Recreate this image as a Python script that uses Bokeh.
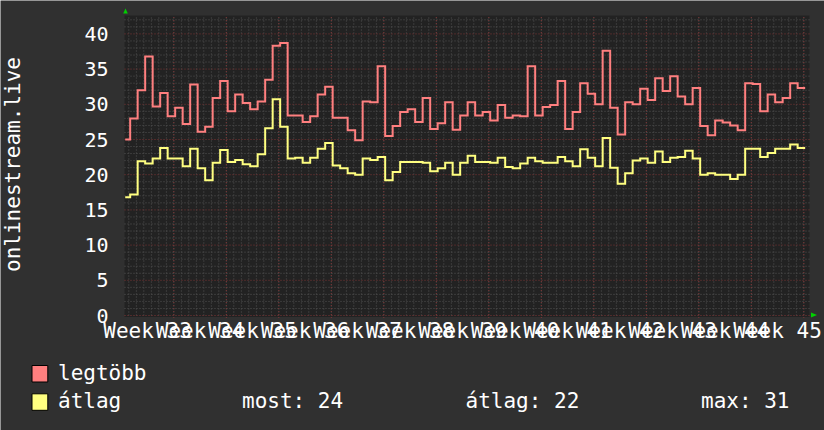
import numpy as np
from bokeh.plotting import figure
from bokeh.models import Range1d
from bokeh.core.properties import value
from bokeh.embed import file_html
from bokeh.resources import INLINE

# Daily viewer counts for onlinestream.live (first sample covers a partial day)
max_viewers = [  # legtöbb
    25.0, 28.0, 32.0, 36.8, 29.7, 31.6, 28.3, 29.5, 27.2, 32.8, 26.1, 26.8,
    30.9, 33.3, 29.0, 31.4, 30.2, 29.3, 30.4, 33.5, 38.3, 38.7, 28.4,
    28.4, 27.5, 28.3, 31.4, 32.5, 28.1, 28.1, 26.3, 24.9, 30.4, 30.3, 35.4,
    25.5, 26.9, 28.9, 29.3, 27.5, 30.9, 26.5, 27.3, 30.3, 26.4, 28.4,
    30.3, 28.4, 28.9, 27.7, 29.9, 28.1, 28.4, 28.3, 35.4, 28.4, 29.6, 29.9,
    33.3, 26.5, 28.9, 33.0, 31.5, 30.0, 37.6, 29.5, 25.7, 30.3, 30.0,
    32.2, 30.6, 33.7, 31.9, 34.0, 31.1, 30.0, 32.3, 26.9, 25.6, 27.7, 27.4,
    27.0, 26.3, 33.0, 32.9, 29.0, 31.4, 30.3, 30.9, 33.0, 32.3,
]
avg_viewers = [  # átlag
    16.8, 17.2, 21.9, 21.6, 22.3, 23.8, 22.3, 22.3, 21.2, 23.7, 20.9, 19.2,
    21.7, 23.5, 21.8, 22.1, 21.5, 21.2, 22.9, 26.6, 30.7, 26.8, 22.3,
    22.4, 21.7, 22.4, 23.7, 24.5, 21.3, 20.9, 20.2, 20.0, 22.3, 22.1, 22.5,
    19.2, 20.4, 21.8, 21.8, 21.8, 21.7, 20.5, 20.9, 21.7, 20.0, 21.7,
    22.7, 21.8, 21.8, 21.7, 22.4, 21.1, 20.9, 21.6, 22.4, 21.9, 21.7, 21.7,
    22.5, 21.9, 21.2, 23.6, 22.4, 21.2, 25.2, 21.0, 18.7, 20.2, 22.0,
    22.3, 21.7, 23.3, 21.8, 22.4, 22.5, 23.4, 22.3, 20.0, 20.2, 20.0, 20.0,
    19.4, 20.0, 23.7, 23.7, 22.5, 23.1, 23.7, 23.7, 24.3, 23.8,
]
week_numbers = list(range(33, 46))
week_labels = [f"Week {w}" for w in week_numbers]
y_ticks = list(range(0, 45, 5))
y_tick_labels = [str(v) for v in y_ticks]
series_names = ["legtöbb", "átlag"]

W, H = 824, 430
# page layout: pixel position of day 0 / zero viewers and the scale
ORIGIN_X, ORIGIN_Y = 129.67, 315.0
PX_PER_DAY, PX_PER_UNIT = 7.5, 7.04

def gx(px):
    """page x pixel -> day axis"""
    return (px - ORIGIN_X) / PX_PER_DAY

def gy(py):
    """page y pixel -> viewer axis"""
    return (ORIGIN_Y - py) / PX_PER_UNIT

first_sample_start = -0.66
week_offset = -1.18                       # first week boundary on the day axis
canvas_x = (gx(124.0), gx(809.0))         # dark graph canvas
canvas_y = (gy(316.5), gy(15.0))

edges = np.array([first_sample_start] + list(range(0, len(avg_viewers))), dtype=float)

def step_path(vals):
    xs = np.repeat(edges, 2)[1:-1]
    ys = np.repeat(np.asarray(vals, dtype=float), 2)
    return xs, ys

week_bounds = [week_offset + 7 * k for k in range(len(week_numbers) + 1)]
week_bounds = [w for w in week_bounds if canvas_x[0] <= w <= canvas_x[1]]
week_centers = [week_offset + 3.5 + 7 * k for k in range(len(week_numbers))]
day_lines = [week_offset + d for d in range(0, 7 * len(week_numbers) + 1)]
day_lines = [d for d in day_lines if canvas_x[0] <= d <= canvas_x[1]]
unit_lines = [u for u in range(1, 43) if u % 5]

FONT = "DejaVu Sans Mono"
OUTER = "#303030"
CANVAS = "#222222"
GRID_MINOR = "#555555"
GRID_MAJOR = "#7e3535"
ARROW = "#00d000"
COL_MAX = "#ff7f7f"
COL_AVG = "#ffff80"
TEXT = "#ffffff"

p = figure(width=W, height=H, output_backend="svg", toolbar_location=None,
           x_range=Range1d(gx(0), gx(W)), y_range=Range1d(gy(H), gy(0)),
           min_border=0)
p.axis.visible = False
p.xgrid.visible = False
p.ygrid.visible = False
p.background_fill_color = OUTER
p.border_fill_color = OUTER
p.outline_line_color = None

# dark graph canvas
p.quad(left=[canvas_x[0]], right=[canvas_x[1]], bottom=[canvas_y[0]],
       top=[canvas_y[1]], fill_color=CANVAS, line_color=None)

# minor grid: one line per day and per viewer
p.segment(x0=day_lines, x1=day_lines, y0=[0] * len(day_lines),
          y1=[canvas_y[1]] * len(day_lines),
          line_color=GRID_MINOR, line_dash="1 2", line_width=1)
p.segment(x0=[canvas_x[0]] * len(unit_lines), x1=[canvas_x[1]] * len(unit_lines),
          y0=unit_lines, y1=unit_lines,
          line_color=GRID_MINOR, line_dash="1 2", line_width=1)
# major grid: weeks and every 5 viewers
p.segment(x0=week_bounds, x1=week_bounds, y0=[gy(317.5)] * len(week_bounds),
          y1=[canvas_y[1]] * len(week_bounds),
          line_color=GRID_MAJOR, line_dash="1 2", line_width=1)
p.segment(x0=[canvas_x[0]] * len(y_ticks), x1=[canvas_x[1]] * len(y_ticks),
          y0=y_ticks, y1=y_ticks,
          line_color=GRID_MAJOR, line_dash="1 2", line_width=1)

# series
xs, ys = step_path(max_viewers)
p.line(xs, ys, line_color=COL_MAX, line_width=2, line_join="miter")
xs, ys = step_path(avg_viewers)
p.line(xs, ys, line_color=COL_AVG, line_width=2, line_join="miter")

# axis arrows
p.patch([gx(122.7), gx(125.0), gx(127.3)], [gy(13.0), gy(8.0), gy(13.0)],
        fill_color=ARROW, line_color=None)
p.patch([gx(810.5), gx(816.5), gx(810.5)], [gy(312.0), gy(314.5), gy(317.0)],
        fill_color=ARROW, line_color=None)

# tick labels
p.text(x=[gx(108.0)] * len(y_ticks), y=y_ticks, text=y_tick_labels,
       text_font=value(FONT), text_font_size="20px", text_color=TEXT,
       text_align="right", text_baseline="middle")
p.text(x=week_centers, y=[gy(330.5)] * len(week_centers), text=week_labels,
       text_font=value(FONT), text_font_size="21px", text_color=TEXT,
       text_align="center", text_baseline="middle")
p.text(x=[gx(12.5)], y=[gy(164.0)], text=["onlinestream.live"], angle=np.pi / 2,
       text_font=value(FONT), text_font_size="21px", text_color=TEXT,
       text_align="center", text_baseline="middle")

# legend
last = avg_viewers[-1]
mean = float(np.mean(avg_viewers))
peak = max(avg_viewers)

p.quad(left=[gx(31.5)] * 2, right=[gx(47.3)] * 2,
       top=[gy(365.0), gy(393.3)], bottom=[gy(381.5), gy(409.8)],
       fill_color=[COL_MAX, COL_AVG], line_color="#000000", line_width=1)
p.text(x=[gx(57.5), gx(57.5), gx(241.5), gx(465.0), gx(700.5)],
       y=[gy(372.5), gy(400.5), gy(400.5), gy(400.5), gy(400.5)],
       text=[series_names[0], series_names[1], f"most: {last:.0f}",
             f"átlag: {mean:.0f}", f"max: {peak:.0f}"],
       text_font=value(FONT), text_font_size="21px", text_color=TEXT,
       text_baseline="middle", text_align="left")

open("out.html", "w", encoding="utf-8").write(file_html(p, INLINE))
